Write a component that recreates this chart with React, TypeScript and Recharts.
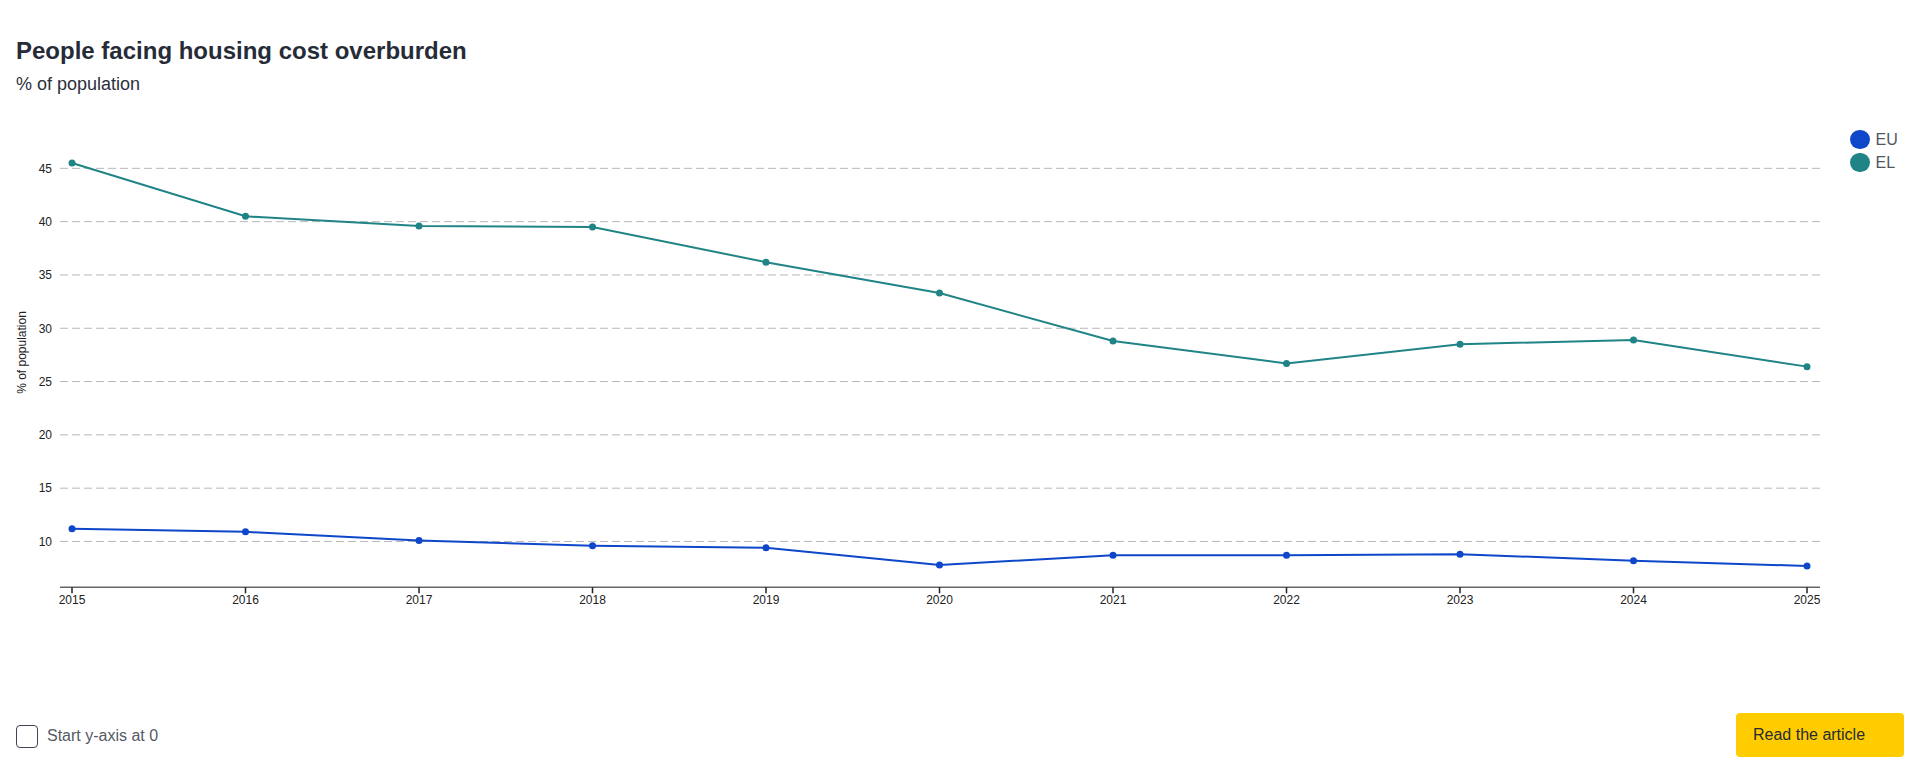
import React from "react";
import {
  LineChart,
  Line,
  XAxis,
  YAxis,
  CartesianGrid,
  Label,
} from "recharts";

const years = ["2015", "2016", "2017", "2018", "2019", "2020", "2021", "2022", "2023", "2024", "2025"];
const euValues = [11.2, 10.9, 10.1, 9.6, 9.4, 7.8, 8.7, 8.7, 8.8, 8.2, 7.7];
const elValues = [45.5, 40.5, 39.6, 39.5, 36.2, 33.3, 28.8, 26.7, 28.5, 28.9, 26.4];
const yTicks = [10, 15, 20, 25, 30, 35, 40, 45];

const series = [
  { key: "EU", label: "EU", color: "#0f47cb", values: euValues },
  { key: "EL", label: "EL", color: "#208486", values: elValues },
];

const chartData = years.map((year, i) => ({
  year,
  EU: euValues[i],
  EL: elValues[i],
}));

const FONT = '"Liberation Sans", Arial, Helvetica, sans-serif';

// y domain: 2 points of headroom either side of the data
const allValues = [...euValues, ...elValues];
const yMin = Math.round((Math.min(...allValues) - 2) * 10) / 10;
const yMax = Math.round((Math.max(...allValues) + 2) * 10) / 10;

// grid lines only at the labelled ticks (no line at the top edge)
const gridLines = ({ offset }: any) => {
  if (!offset) return [];
  return yTicks.map(
    (t) => offset.top + ((yMax - t) / (yMax - yMin)) * offset.height
  );
};

export default function App() {
  return (
    <div
      style={{
        position: "fixed",
        left: 0,
        top: 0,
        width: 1920,
        height: 771,
        background: "#fff",
        fontFamily: FONT,
        overflow: "hidden",
      }}
    >
      <div
        style={{
          position: "absolute",
          left: 16,
          top: 39,
          fontSize: 24,
          lineHeight: "24px",
          fontWeight: 700,
          color: "#262b38",
          whiteSpace: "nowrap",
        }}
      >
        People facing housing cost overburden
      </div>
      <div
        style={{
          position: "absolute",
          left: 16,
          top: 75,
          fontSize: 18,
          lineHeight: "18px",
          color: "#2b303b",
          whiteSpace: "nowrap",
        }}
      >
        % of population
      </div>

      <div style={{ position: "absolute", left: 0, top: 0 }}>
        <LineChart
          width={1920}
          height={640}
          data={chartData}
          margin={{ top: 141.7, right: 100, bottom: 22.7, left: 0 }}
        >
          <CartesianGrid
            vertical={false}
            stroke="#b8b8b8"
            strokeDasharray="8 4"
            horizontalCoordinatesGenerator={gridLines}
          />
          <XAxis
            dataKey="year"
            padding={{ left: 12, right: 13 }}
            axisLine={{ stroke: "#666", strokeWidth: 1.5 }}
            tickLine={{ stroke: "#222", strokeWidth: 1.5 }}
            tickSize={6}
            tick={{ fontSize: 12, fill: "#222", fontFamily: FONT }}
            interval={0}
          />
          <YAxis
            width={60}
            domain={[yMin, yMax]}
            ticks={yTicks}
            axisLine={false}
            tickLine={false}
            tick={{ fontSize: 12, fill: "#222", fontFamily: FONT }}
            allowDataOverflow
          >
            <Label
              content={() => (
                <text
                  x={0}
                  y={0}
                  transform="translate(22, 352.5) rotate(-90)"
                  textAnchor="middle"
                  dominantBaseline="central"
                  fontSize={12}
                  fill="#222"
                  fontFamily={FONT}
                >
                  % of population
                </text>
              )}
            />
          </YAxis>
          {series.map((s) => (
            <Line
              key={s.key}
              type="linear"
              dataKey={s.key}
              stroke={s.color}
              strokeWidth={2}
              dot={{ r: 3.5, fill: s.color, stroke: "none" }}
              activeDot={false}
              isAnimationActive={false}
            />
          ))}
        </LineChart>
      </div>

      {/* legend */}
      {series.map((s, i) => (
        <div
          key={s.key}
          style={{
            position: "absolute",
            left: 1850,
            top: 129.5 + i * 23,
            height: 20,
            display: "flex",
            alignItems: "center",
            whiteSpace: "nowrap",
          }}
        >
          <div
            style={{
              width: 19.5,
              height: 19.5,
              borderRadius: "50%",
              background: s.color,
            }}
          />
          <span
            style={{
              marginLeft: 6,
              fontSize: 16,
              lineHeight: "20px",
              color: "#50555f",
            }}
          >
            {s.label}
          </span>
        </div>
      ))}

      {/* bottom controls */}
      <div
        style={{
          position: "absolute",
          left: 16,
          top: 724,
          height: 24,
          display: "flex",
          alignItems: "center",
          whiteSpace: "nowrap",
        }}
      >
        <div
          style={{
            width: 20,
            height: 21,
            border: "1.5px solid #3f4552",
            borderRadius: 4,
          }}
        />
        <span style={{ marginLeft: 9, fontSize: 16, color: "#555a65" }}>
          Start y-axis at 0
        </span>
      </div>
      <div
        style={{
          position: "absolute",
          left: 1736,
          top: 713,
          width: 168,
          height: 44,
          background: "#ffcc00",
          borderRadius: 4,
          display: "flex",
          alignItems: "center",
          paddingLeft: 17,
          boxSizing: "border-box",
          fontSize: 16,
          color: "#262b36",
          whiteSpace: "nowrap",
        }}
      >
        Read the article
      </div>
    </div>
  );
}
